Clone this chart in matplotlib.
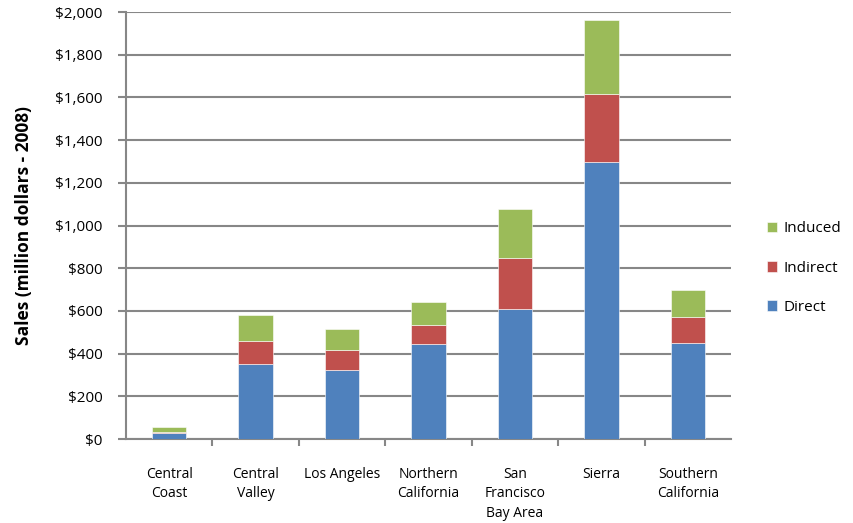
import matplotlib.pyplot as plt
import numpy as np

# Sales by region, million dollars (2008)
regions = ['Central\nCoast', 'Central\nValley', 'Los Angeles', 'Northern\nCalifornia',
           'San\nFrancisco\nBay Area', 'Sierra', 'Southern\nCalifornia']
direct = [28, 351, 323, 443, 609, 1297, 452]
indirect = [7, 109, 92, 91, 239, 320, 118]
induced = [22, 122, 102, 110, 229, 345, 129]

colors = {'Direct': '#4F81BD', 'Indirect': '#C0504D', 'Induced': '#9BBB59'}
grid_color = '#878787'

plt.rcParams['font.family'] = ['Open Sans', 'DejaVu Sans']

fig = plt.figure(figsize=(8.54, 5.23), dpi=100)
ax = fig.add_axes([0.1475, 0.1606, 0.7085, 0.8164])

x = np.arange(len(regions))
w = 0.40
b1 = ax.bar(x, direct, w, color=colors['Direct'], edgecolor='white', linewidth=0.4, label='Direct', zorder=3)
bottom2 = np.array(direct)
b2 = ax.bar(x, indirect, w, bottom=bottom2, color=colors['Indirect'], edgecolor='white', linewidth=0.4,
            label='Indirect', zorder=3)
bottom3 = bottom2 + np.array(indirect)
b3 = ax.bar(x, induced, w, bottom=bottom3, color=colors['Induced'], edgecolor='white', linewidth=0.4,
            label='Induced', zorder=3)

ax.set_xlim(-0.5, len(regions) - 0.5)
ax.set_ylim(0, 2000)
ax.set_yticks(np.arange(0, 2001, 200))
ax.set_yticklabels(['${:,}'.format(v) for v in range(0, 2001, 200)], fontsize=11)
ax.yaxis.grid(True, color=grid_color, linewidth=1.5, zorder=0)

ax.set_xticks(x)
ax.set_xticklabels(regions, fontsize=10, linespacing=1.4, va='top')
ax.tick_params(axis='x', which='major', length=0, pad=20)
ax.set_xticks(np.arange(0.5, len(regions) - 0.5), minor=True)
ax.tick_params(axis='x', which='minor', length=5, width=1.5, color=grid_color, direction='out')
ax.tick_params(axis='y', length=6, width=1.5, color=grid_color, direction='out', pad=11)

for side in ['top', 'right']:
    ax.spines[side].set_visible(False)
for side in ['left', 'bottom']:
    ax.spines[side].set_color(grid_color)
    ax.spines[side].set_linewidth(1.5)

ax.set_ylabel('Sales (million dollars - 2008)', fontsize=12.5, fontweight='bold', labelpad=16)

ax.legend([b3, b2, b1], ['Induced', 'Indirect', 'Direct'], loc='center left',
          bbox_to_anchor=(1.036, 0.40), frameon=False, fontsize=11,
          handlelength=0.7, handleheight=0.7, handletextpad=0.4, labelspacing=1.6)

plt.savefig('out.png', dpi=100)
